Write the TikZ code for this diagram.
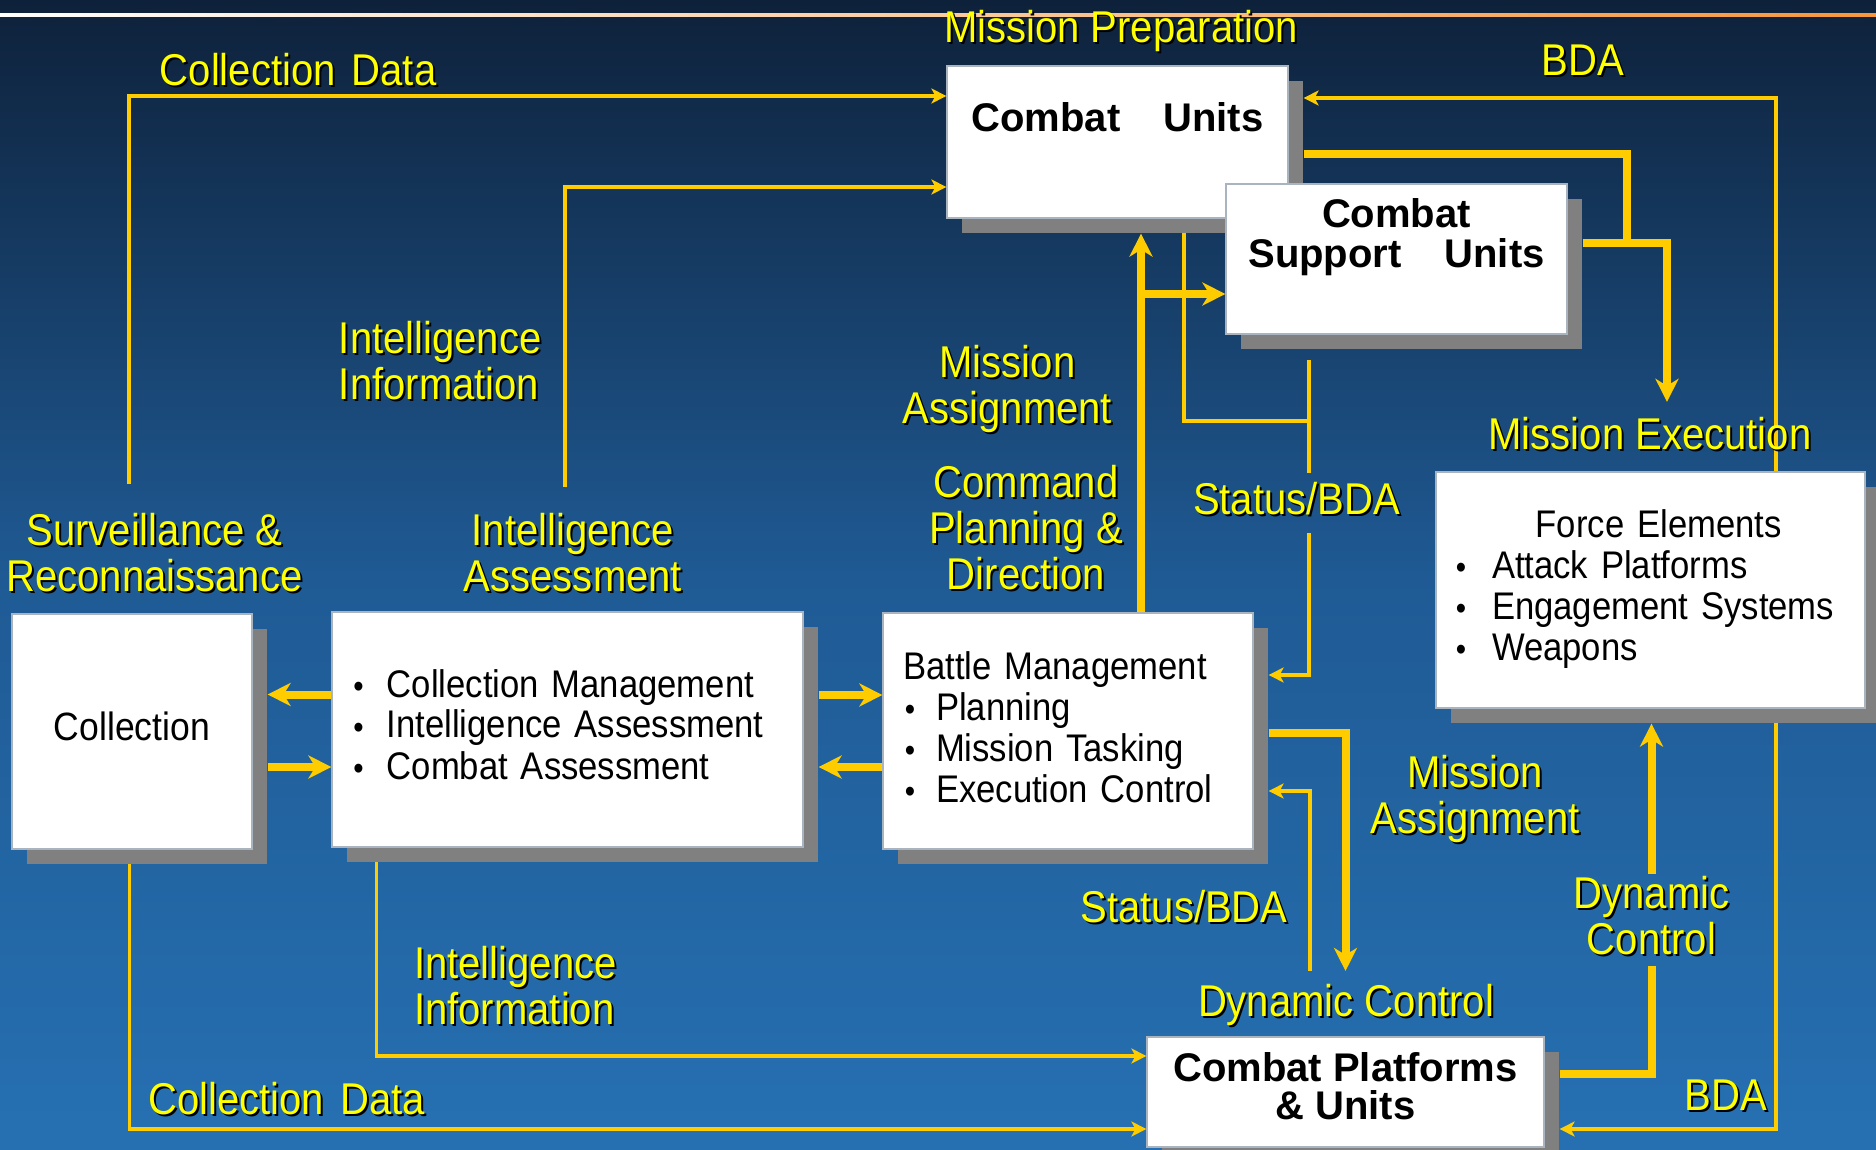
\documentclass[tikz,border=0pt]{standalone}
\usepackage{graphicx}
\usepackage{fontspec}
\setmainfont{Liberation Sans}[FakeStretch=0.9]
\newfontfamily\boldfam{Liberation Sans}
\usetikzlibrary{arrows.meta,shadows}

\definecolor{bgtop}{RGB}{14,33,58}
\definecolor{bgmid}{RGB}{31,90,148}
\definecolor{bgbot}{RGB}{38,112,178}
\definecolor{wire}{RGB}{255,204,0}
\definecolor{lblyellow}{RGB}{255,255,0}
\definecolor{shadowgray}{RGB}{128,128,128}
\definecolor{boxedge}{RGB}{170,180,190}
\definecolor{lineorange}{RGB}{247,150,60}

% yellow caption with a dark drop shadow
\newcommand\yl[1]{\leavevmode\rlap{\kern1pt\raisebox{-1pt}{\color{black}#1}}#1}
% small bullet dot, centred in a box of width #1, text starting after #2
\newcommand\dotb{\scalebox{0.85}{\textbullet}}
\newcommand\bul[2]{\makebox[#2][l]{\makebox[#1][c]{\dotb}}}

\pgfdeclarelayer{bg}
\pgfdeclarelayer{wires}
\pgfsetlayers{bg,wires,main}

\tikzset{
  box/.style={fill=white, draw=boxedge, line width=0.6pt, inner ysep=2pt,
    general shadow={fill=shadowgray, shadow xshift=7.5pt, shadow yshift=-7.5pt},
    text height=16pt},
  boxtxt/.style={font=\fontsize{19.25pt}{20.5pt}\selectfont, align=left},
  boldtxt/.style={font=\boldfam\bfseries\fontsize{20pt}{20pt}\selectfont, align=center},
  lbl/.style={text=lblyellow, font=\fontsize{22.25pt}{23pt}\selectfont, inner sep=0pt, anchor=base},
  thinw/.style={draw=wire, line width=1.75pt},
  thickw/.style={draw=wire, line width=4pt},
  tipthin/.style={-{Stealth[length=7.5pt,width=7.5pt,inset=2pt]}},
  tipthick/.style={-{Stealth[length=11.5pt,width=11.5pt,inset=3.5pt]}},
}

\begin{document}
\begin{tikzpicture}[x=0.5pt,y=-0.5pt]
\useasboundingbox (0,0) rectangle (1876,1150);

% backdrop and top rule
\begin{pgfonlayer}{bg}
  \shade[top color=bgtop, bottom color=bgmid] (0,0) rectangle (1876,576);
  \shade[top color=bgmid, bottom color=bgbot] (0,575) rectangle (1876,1150);
  \shade[left color=white, right color=lineorange] (0,13.5) rectangle (1876,16.5);
\end{pgfonlayer}

% boxes
\node[box, boxtxt, align=center, font=\fontsize{19.75pt}{20.5pt}\selectfont,
  minimum width=120pt, minimum height=117.5pt, text depth=7.5pt] (col) at (132,731.5) {Collection};

\node[box, boxtxt, minimum width=235.5pt, minimum height=117.5pt, text width=224pt,
  inner xsep=5.75pt, text depth=48.5pt] (ia) at (567.5,729.5)
  {\bul{15pt}{21.65pt}Collection Management\\\bul{15pt}{21.65pt}Intelligence Assessment\\\bul{15pt}{21.65pt}Combat Assessment};

\node[box, boxtxt, minimum width=185pt, minimum height=118pt, text width=165pt,
  inner xsep=10pt, text depth=68pt] (bm) at (1068,731)
  {Battle Management\\\bul{7pt}{16.5pt}Planning\\\bul{7pt}{16.5pt}Mission Tasking\\\bul{7pt}{16.5pt}Execution Control};

\node[box, boxtxt, minimum width=214.5pt, minimum height=118pt, text width=201.5pt,
  inner xsep=6.5pt, text depth=68.3pt] (fe) at (1650.5,590)
  {\hspace*{43.4pt}Force Elements\\\bul{12pt}{21.5pt}Attack Platforms\\\bul{12pt}{21.5pt}Engagement Systems\\\bul{12pt}{21.5pt}Weapons};

\node[box, boldtxt, minimum width=170.5pt, minimum height=76pt, text depth=26.3pt] (cu) at (1117.5,142)
  {Combat\hspace{21.5pt}Units};

\node[box, boldtxt, minimum width=170.5pt, minimum height=75pt, text height=36pt, text depth=27pt] (csu) at (1396.5,259)
  {Combat\\Support\hspace{21.5pt}Units};

\node[box, boldtxt, font=\boldfam\bfseries\fontsize{20pt}{19pt}\selectfont,
  minimum width=198.5pt, minimum height=55pt, text height=36pt, text depth=8.6pt] (cpu) at (1345.5,1092)
  {Combat Platforms\\\& Units};

% captions (multi-line ones are placed by their last baseline)
\node[lbl] (mp) at (1121,42.7) {\yl{Mission Preparation}};
\node[lbl, anchor=base west] (cd1) at (159.5,86) {\yl{Collection\hspace{8pt}Data}};
\node[lbl] (bda1) at (1583,76) {\yl{BDA}};
\node[lbl, align=left, anchor=base west] (ii1) at (338.5,400) {\yl{Intelligence}\\\yl{Information}};
\node[lbl, align=center] (ma1) at (1007.5,423.5) {\yl{Mission}\\\yl{Assignment}};
\node[lbl, align=center] (cpd) at (1026,589) {\yl{Command}\\\yl{Planning \&}\\\yl{Direction}};
\node[lbl] (sb1) at (1296.5,514.7) {\yl{Status/BDA}};
\node[lbl] (me) at (1650,450) {\yl{Mission Execution}};
\node[lbl, align=center] (sr) at (154.5,591) {\yl{Surveillance \&}\\\yl{Reconnaissance}};
\node[lbl, align=center] (ial) at (573,591) {\yl{Intelligence}\\\yl{Assessment}};
\node[lbl, align=left, anchor=base west] (ii2) at (413.7,1024) {\yl{Intelligence}\\\yl{Information}};
\node[lbl, anchor=base west] (cd2) at (148,1114.6) {\yl{Collection\hspace{8pt}Data}};
\node[lbl] (sb2) at (1184,922.5) {\yl{Status/BDA}};
\node[lbl, align=center] (ma2) at (1475,833.5) {\yl{Mission}\\\yl{Assignment}};
\node[lbl] (dc1) at (1346,1016.6) {\yl{Dynamic Control}};
\node[lbl, align=center] (dcr) at (1651.5,954.5) {\yl{Dynamic}\\\yl{Control}};
\node[lbl] (bda2) at (1726,1110) {\yl{BDA}};

\coordinate (cdtop) at (129,484);
\coordinate (iitop) at (565,487);
\coordinate (sbj) at (1309,421);
\coordinate (mej) at (1627,243);

\begin{pgfonlayer}{wires}
  % thin flows
  \draw[thinw,tipthin] (cdtop) |- ([yshift=23pt]cu.west);
  \draw[thinw,tipthin] (iitop) |- ([yshift=-22.5pt]cu.west);
  \draw[thinw,tipthin] (1776,0 |- fe.north) |- ([xshift=7.5pt,yshift=22pt]cu.east);
  \draw[thinw,tipthin] (1776,0 |- fe.south) |- ([xshift=7.5pt,yshift=-18.5pt]cpu.east);
  \draw[thinw] (1184,0 |- cu.south) |- (sbj);
  \draw[thinw,shorten <=12.5pt] (1309,0 |- csu.south) -- ([yshift=4.5pt]sb1.north -| 1309,0);
  \draw[thinw,tipthin] ([yshift=-7.75pt]sb1.south -| 1309,0) |- ([xshift=7.5pt,yshift=28pt]bm.east);
  \draw[thinw,tipthin] ([yshift=6.5pt]dc1.north -| 1310,0) |- ([xshift=7.5pt,yshift=-30pt]bm.east);
  \draw[thinw,tipthin] (376.5,0 |- ia.south) |- ([yshift=18pt]cpu.west);
  \draw[thinw,tipthin] (129.5,0 |- col.south) |- ([yshift=-18.5pt]cpu.west);

  % thick flows
  \draw[thickw,tipthick] ([yshift=17.5pt]ia.west) -- ([xshift=7.5pt,yshift=18.5pt]col.east);
  \draw[thickw,tipthick] ([xshift=7.5pt,yshift=-17.75pt]col.east) -- ([yshift=-18.75pt]ia.west);
  \draw[thickw,tipthick] ([xshift=7.5pt,yshift=17.25pt]ia.east) -- ([yshift=18pt]bm.west);
  \draw[thickw,tipthick] ([yshift=-18pt]bm.west) -- ([xshift=7.5pt,yshift=-18.75pt]ia.east);
  \draw[thickw,tipthick] (1141,0 |- bm.north) -- ([yshift=-7.5pt]cu.south -| 1141,0);
  \draw[thickw,tipthick] ([yshift=-17.5pt]csu.west -| 1141,0) -- ([yshift=-17.5pt]csu.west);
  \draw[thickw] ([xshift=7.5pt,yshift=-6pt]cu.east) -| (mej);
  \draw[thickw,tipthick] ([xshift=7.5pt,yshift=8pt]csu.east) -| ([yshift=7.75pt]me.north -| 1667,0);
  \draw[thickw,tipthick] ([xshift=7.5pt,yshift=-1pt]bm.east) -| ([yshift=6.5pt]dc1.north -| cpu.north);
  \draw[thickw] ([xshift=7.5pt,yshift=9pt]cpu.east) -| ([yshift=-4.5pt]dcr.south);
  \draw[thickw,tipthick] ([yshift=1pt]dcr.north) -- ([yshift=-7.5pt]fe.south -| dcr.north);
\end{pgfonlayer}
\end{tikzpicture}
\end{document}
